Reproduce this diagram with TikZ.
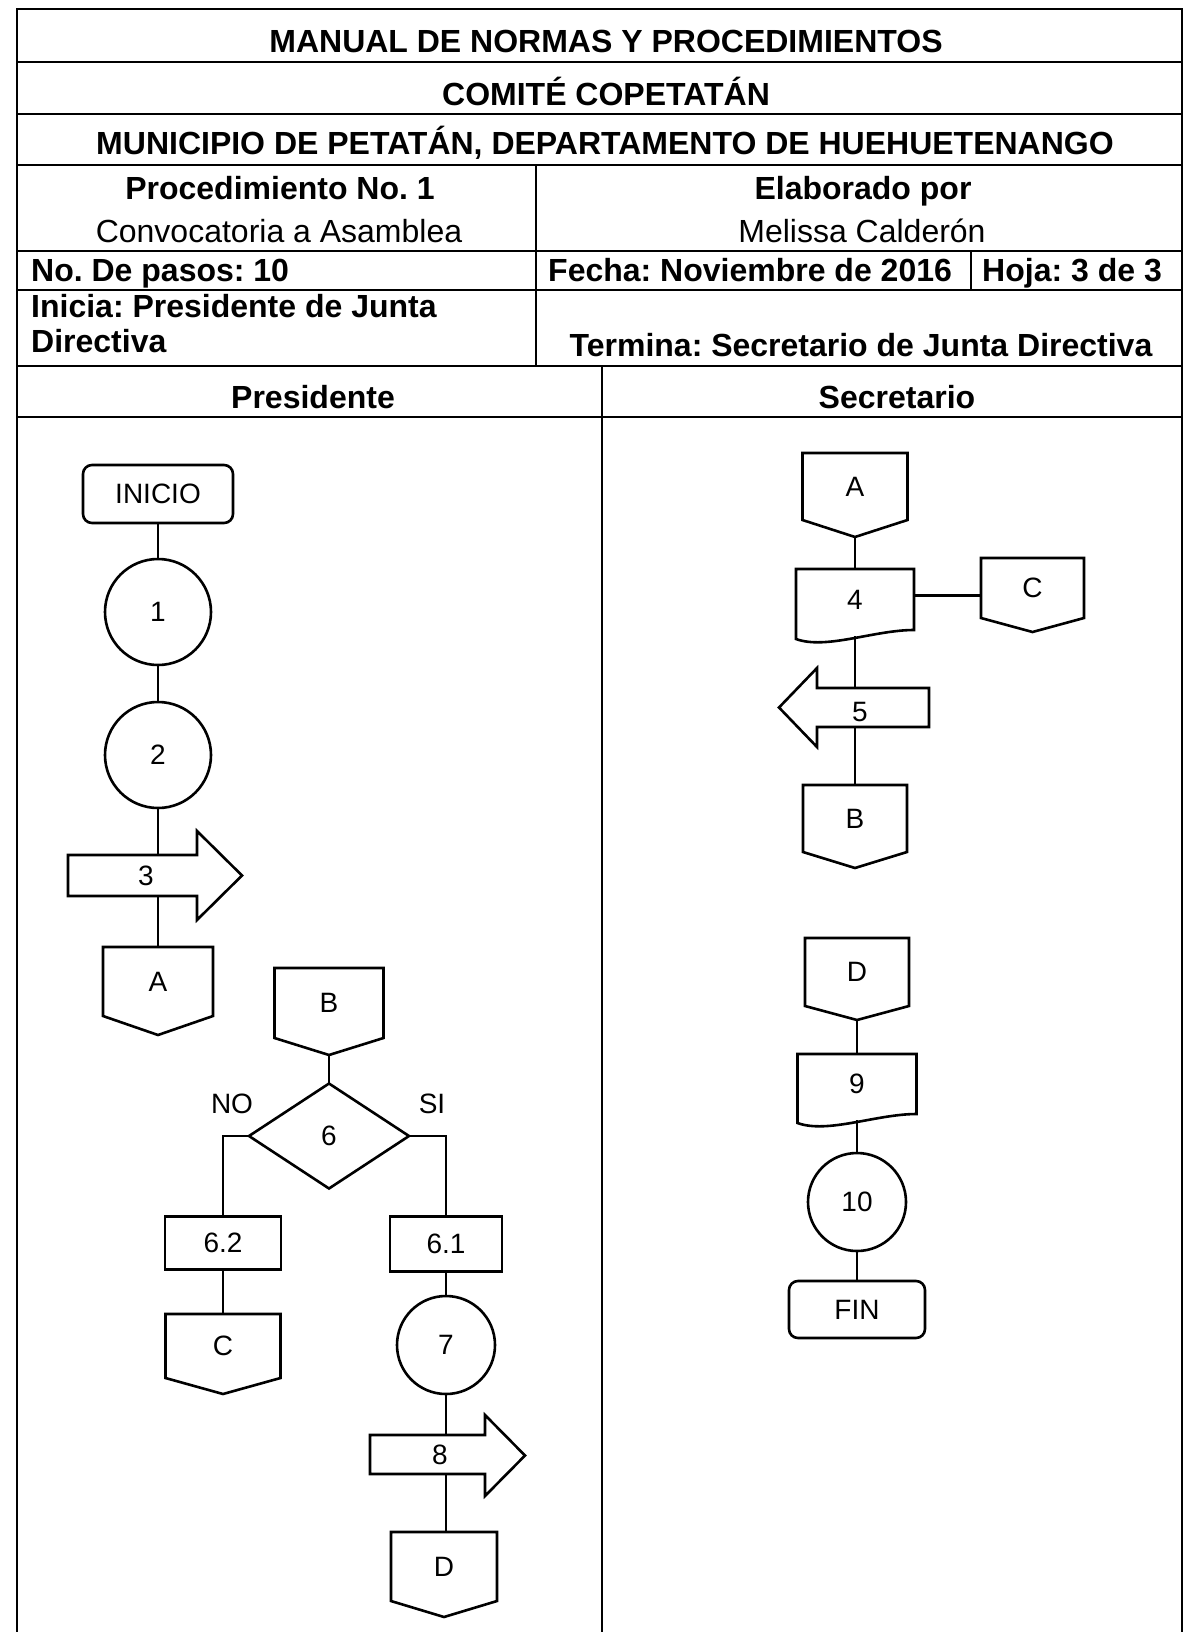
\documentclass[tikz,border=0pt]{standalone}
\usepackage{fontspec}
\setmainfont{Liberation Sans}
\usetikzlibrary{shapes.geometric,calc}
\frenchspacing
\newcommand\offpg[7]{% name, x, y, width, height, tip depth, label
  \node[offbox,minimum width=#4,minimum height=#5] (#1) at (#2,#3) {#7};
  \coordinate (#1tip) at ($(#1.south)+(0,#6)$);
  \draw[sline] (#1.north west) -- (#1.north east) -- (#1.south east) -- (#1tip) -- (#1.south west) -- cycle;
}
\newcommand\docnd[6]{% name, x, y, width, height, label
  \node[offbox,minimum width=#4,minimum height=#5] (#1) at (#2,#3) {#6};
  \coordinate (#1bot) at ($(#1.south)+(0,6)$);
  \draw[sline] (#1.south east) -- (#1.north east) -- (#1.north west) -- ($(#1.south west)+(0,9)$)
     .. controls ($(#1.south west)+(30,20)$) and ($(#1.south east)+(-40,0)$) .. (#1.south east) -- cycle;
}
\begin{document}
\begin{tikzpicture}[x=1pt,y=-1pt,
  tline/.style={line width=2.3pt},
  sline/.style={line width=2.6pt,line join=miter},
  conn/.style={line width=2.6pt},
  htext/.style={inner sep=0pt,font=\fontsize{32}{38}\selectfont\bfseries},
  hreg/.style={inner sep=0pt,font=\fontsize{32}{38}\selectfont},
  ftext/.style={font=\fontsize{28}{34}\selectfont},
  offbox/.style={rectangle,inner sep=0pt,outer sep=0pt,ftext},
  procbox/.style={rectangle,draw,sline,inner sep=0pt,outer sep=0pt,ftext},
  termbox/.style={rectangle,rounded corners=9pt,draw,sline,inner sep=0pt,outer sep=0pt,ftext},
  circ/.style={circle,draw,sline,inner sep=0pt,outer sep=0pt,ftext},
  dia/.style={diamond,draw,sline,inner sep=0pt,outer sep=0pt,ftext},
  lbl/.style={inner sep=0pt,ftext}
]
\useasboundingbox (0,0) rectangle (1191,1632);

% ---------- table frame ----------
\draw[tline] (17,1632) -- (17,9) -- (1182,9) -- (1182,1632);
\foreach \yy in {62,114,165,251,290,366,417}
  \draw[tline] (17,\yy) -- (1182,\yy);
\draw[tline] (536,165) -- (536,366);
\draw[tline] (971,251) -- (971,290);
\draw[tline] (602,366) -- (602,1632);

% ---------- header texts ----------
\node[htext,anchor=base] (t1) at (606,53) {MANUAL DE NORMAS Y PROCEDIMIENTOS};
\node[htext,anchor=base] (t2) at (606,106) {COMITÉ COPETATÁN};
\node[htext,anchor=base] (t3) at (605,155) {MUNICIPIO DE PETATÁN, DEPARTAMENTO DE HUEHUETENANGO};
\node[htext,anchor=base] (t4) at (280,200) {Procedimiento No. 1};
\node[hreg,anchor=base] (t5) at (279,242) {Convocatoria a Asamblea};
\node[htext,anchor=base] (t6) at (863,200) {Elaborado por};
\node[hreg,anchor=base] (t7) at (862,242) {Melissa Calderón};
\node[htext,anchor=base west] (t8) at (31,281) {No. De pasos: 10};
\node[htext,anchor=base west] (t9) at (548,281) {Fecha: Noviembre de 2016};
\node[htext,anchor=base west] (t10) at (982,281) {Hoja: 3 de 3};
\node[htext,anchor=base west] (t11) at (31,317) {Inicia: Presidente de Junta};
\node[htext,anchor=base west] (t12) at (31,352) {Directiva};
\node[htext,anchor=base] (t13) at (861,356) {Termina: Secretario de Junta Directiva};
\node[htext,anchor=base] (t14) at (313,408) {Presidente};
\node[htext,anchor=base] (t15) at (897,408) {Secretario};

% ---------- Presidente lane ----------
\node[termbox,minimum width=150pt,minimum height=58pt] (inicio) at (158,494) {INICIO};
\node[circ,minimum size=106pt] (c1) at (158,612) {1};
\node[circ,minimum size=106pt] (c2) at (158,755) {2};
% arrow 3
\draw[sline] (68,855) -- (197,855) -- (197,831) -- (242,875.5) -- (197,920) -- (197,896) -- (68,896) -- cycle;
\node[lbl] (n3) at (146,876) {3};
\coordinate (a3top) at (158,855);
\coordinate (a3bot) at (158,896);
\offpg{offAa}{158}{981.5}{110pt}{69pt}{19}{A}

\offpg{offBa}{329}{1003}{109pt}{70pt}{17}{B}
\node[dia,minimum width=160pt,minimum height=105pt] (d6) at (329,1136) {6};
\node[lbl] (no) at (232,1104) {NO};
\node[lbl] (si) at (432,1104) {SI};
\node[procbox,minimum width=116pt,minimum height=53pt] (b62) at (223,1243) {6.2};
\node[procbox,minimum width=112pt,minimum height=55pt] (b61) at (446,1244) {6.1};
\offpg{offCa}{223}{1346}{115pt}{64pt}{16}{C}
\node[circ,minimum size=98pt] (c7) at (446,1345) {7};
% arrow 8
\draw[sline] (370,1435) -- (485,1435) -- (485,1415) -- (525,1455.5) -- (485,1496) -- (485,1474) -- (370,1474) -- cycle;
\node[lbl] (n8) at (440,1455) {8};
\coordinate (a8top) at (446,1435);
\coordinate (a8bot) at (446,1474);
\offpg{offDa}{444}{1566.5}{106pt}{69pt}{16}{D}

% connectors, Presidente
\draw[conn] (inicio.south) -- (c1.north);
\draw[conn] (c1.south) -- (c2.north);
\draw[conn] (c2.south) -- (a3top);
\draw[conn] (a3bot) -- (offAa.north);
\draw[conn] (offBatip) -- (d6.north);
\draw[conn] (d6.west) -| (b62.north);
\draw[conn] (d6.east) -| (b61.north);
\draw[conn] (b62.south) -- (offCa.north);
\draw[conn] (b61.south) -- (c7.north);
\draw[conn] (c7.south) -- (a8top);
\draw[conn] (a8bot) -- (a8bot |- offDa.north);

% ---------- Secretario lane ----------
\offpg{offAb}{855}{486.5}{105pt}{67pt}{17}{A}
\docnd{doc4}{855}{599.5}{118pt}{61pt}{4}
\coordinate (doc4link) at ($(doc4.north east)!0.43!(doc4.south east)$);
\offpg{offCb}{1032.5}{588}{103pt}{60pt}{14}{C}
% arrow 5
\draw[sline] (929,688) -- (817,688) -- (817,668) -- (779,707.5) -- (817,747) -- (817,727) -- (929,727) -- cycle;
\node[lbl] (n5) at (860,712) {5};
\coordinate (a5top) at (855,688);
\coordinate (a5bot) at (855,727);
\offpg{offBb}{855}{818.5}{104pt}{67pt}{16}{B}

\offpg{offDb}{857}{972}{104pt}{68pt}{14}{D}
\docnd{doc9}{857}{1084}{119pt}{60pt}{9}
\node[circ,minimum size=98pt] (c10) at (857,1202) {10};
\node[termbox,minimum width=136pt,minimum height=57pt] (fin) at (857,1309.5) {FIN};

% connectors, Secretario
\draw[conn] (offAbtip) -- (doc4.north);
\draw[conn] (doc4link) -- (doc4link -| offCb.west);
\draw[conn] (doc4bot) -- (a5top);
\draw[conn] (a5bot) -- (offBb.north);
\draw[conn] (offDbtip) -- (doc9.north);
\draw[conn] (doc9bot) -- (c10.north);
\draw[conn] (c10.south) -- (fin.north);
\end{tikzpicture}
\end{document}
